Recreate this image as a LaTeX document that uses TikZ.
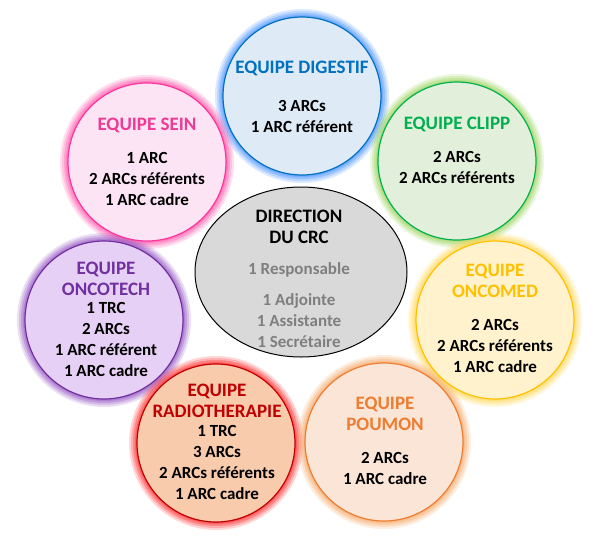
\documentclass[tikz,border=0pt]{standalone}
\usepackage{fontspec}
\setmainfont{Carlito}
\usetikzlibrary{shapes.geometric}
\definecolor{digB}{HTML}{0070C0}\definecolor{digF}{HTML}{DEEBF7}\definecolor{digG}{HTML}{3D8BFF}
\definecolor{seiB}{HTML}{FF3399}\definecolor{seiF}{HTML}{FCE4F4}\definecolor{seiG}{HTML}{FF4FA7}\definecolor{seiT}{HTML}{EE3A94}
\definecolor{cliB}{HTML}{00B050}\definecolor{cliF}{HTML}{E2EFDA}\definecolor{cliG}{HTML}{92D050}
\definecolor{omeB}{HTML}{FFC000}\definecolor{omeF}{HTML}{FFF2CC}\definecolor{omeG}{HTML}{FFD54F}
\definecolor{pouB}{HTML}{ED7D31}\definecolor{pouF}{HTML}{FBE5D6}\definecolor{pouG}{HTML}{F4A460}
\definecolor{radB}{HTML}{C00000}\definecolor{radF}{HTML}{F8CBAD}\definecolor{radG}{HTML}{FF2020}
\definecolor{oteB}{HTML}{7030A0}\definecolor{oteF}{HTML}{E6D0F5}\definecolor{oteG}{HTML}{8E4BC0}
\definecolor{dirF}{HTML}{D9D9D9}\definecolor{dirT}{HTML}{7F7F7F}
\tikzset{
  team/.style={circle, inner sep=0pt, minimum size=158pt, line width=1.2pt},
  ttl/.style={font=\fontsize{19}{21}\selectfont\bfseries, align=center, inner sep=0pt, anchor=base},
  body/.style={font=\fontsize{17}{21}\selectfont\bfseries, align=center, inner sep=0pt, anchor=base, text=black},
}
\newcommand{\glowring}[3]{%
  \foreach \w/\o in {16/0.18,12/0.22,8/0.3,4/0.35}{\draw[#3, line width=\w pt, opacity=\o] (#1,#2) circle (79pt);}}
\begin{document}
\begin{tikzpicture}[x=1pt,y=-1pt]
\useasboundingbox (0,0) rectangle (600,542);
% glows
\glowring{302}{96}{digG}
\glowring{147}{162}{seiG}
\glowring{457}{161}{cliG}
\glowring{104}{320}{oteG}
\glowring{495}{320}{omeG}
\glowring{216}{443}{radG}
\glowring{384}{442}{pouG}
% circles
\node[team, draw=digB, fill=digF] (dig) at (302,96) {};
\node[team, draw=seiB, fill=seiF] (sei) at (147,162) {};
\node[team, draw=cliB, fill=cliF] (cli) at (457,161) {};
\node[team, draw=oteB, fill=oteF] (ote) at (104,320) {};
\node[team, draw=omeB, fill=omeF] (ome) at (495,320) {};
\node[team, draw=radB, fill=radF] (rad) at (216,443) {};
\node[team, draw=pouB, fill=pouF] (pou) at (384,442) {};
\node[ellipse, draw=black, fill=dirF, line width=1pt, minimum width=212pt, minimum height=170pt, inner sep=0pt] (dir) at (301,272) {};
% texts (anchor = baseline of last line)
\node[ttl, text=digB] (digT) at (302,73) {EQUIPE DIGESTIF};
\node[body] (digBd) at (302,132) {3 ARCs\\1 ARC référent};
\node[ttl, text=seiT] (seiT) at (147,130) {EQUIPE SEIN};
\node[body] (seiBd) at (147,205) {1 ARC\\2 ARCs référents\\1 ARC cadre};
\node[ttl, text=cliB] (cliT) at (457,129) {EQUIPE CLIPP};
\node[body] (cliBd) at (457,183) {2 ARCs\\2 ARCs référents};
\node[ttl, text=oteB] (oteT) at (106,295) {EQUIPE\\ONCOTECH};
\node[body] (oteBd) at (106,376) {1 TRC\\2 ARCs\\1 ARC référent\\1 ARC cadre};
\node[ttl, text=omeB] (omeT) at (495,297) {EQUIPE\\ONCOMED};
\node[body] (omeBd) at (495,372) {2 ARCs\\2 ARCs référents\\1 ARC cadre};
\node[ttl, text=radB] (radT) at (217,417) {EQUIPE\\RADIOTHERAPIE};
\node[body] (radBd) at (217,499) {1 TRC\\3 ARCs\\2 ARCs référents\\1 ARC cadre};
\node[ttl, text=pouB] (pouT) at (385,430) {EQUIPE\\POUMON};
\node[body] (pouBd) at (385,484) {2 ARCs\\1 ARC cadre};
\node[ttl, text=black] (dirT) at (299,243) {DIRECTION\\DU CRC};
\node[body, text=dirT] (dirR) at (299,274) {1 Responsable};
\node[body, text=dirT] (dirBd) at (299,347) {1 Adjointe\\1 Assistante\\1 Secrétaire};
\end{tikzpicture}
\end{document}
